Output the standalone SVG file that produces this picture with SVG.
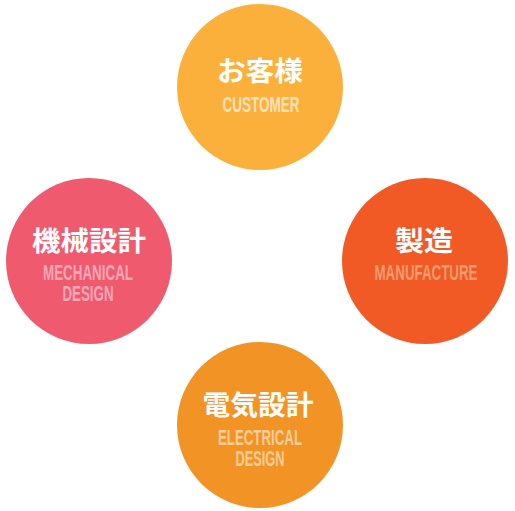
<svg xmlns="http://www.w3.org/2000/svg" width="515" height="511" viewBox="0 0 515 511">
<style>
.jp{font-family:"Noto Sans CJK JP","Noto Sans",sans-serif;font-weight:bold;font-size:27px;fill:#fff;text-anchor:middle}
.en{font-family:"Liberation Sans",Arial,sans-serif;font-size:22px;font-weight:bold;text-anchor:middle}
</style>
<rect width="515" height="511" fill="#fff"/>
<g id="customer">
<circle cx="260" cy="87" r="83" fill="#fbb03b"/>
<text class="jp" x="260" y="81" textLength="86" lengthAdjust="spacingAndGlyphs">お客様</text>
<text class="en" x="261" y="112" fill="#fde0bc" textLength="77" lengthAdjust="spacingAndGlyphs">CUSTOMER</text>
</g>
<g id="mechanical">
<circle cx="89" cy="261" r="83" fill="#ef5a6f"/>
<text class="jp" x="89" y="251" textLength="114" lengthAdjust="spacingAndGlyphs">機械設計</text>
<text class="en" x="88" y="280" fill="#f7a7b7" textLength="90" lengthAdjust="spacingAndGlyphs">MECHANICAL</text>
<text class="en" x="88" y="301" fill="#f7a7b7" textLength="51" lengthAdjust="spacingAndGlyphs">DESIGN</text>
</g>
<g id="manufacture">
<circle cx="425" cy="261" r="83" fill="#f15a24"/>
<text class="jp" x="424" y="251" textLength="58" lengthAdjust="spacingAndGlyphs">製造</text>
<text class="en" x="426" y="280" fill="#f79b70" textLength="103" lengthAdjust="spacingAndGlyphs">MANUFACTURE</text>
</g>
<g id="electrical">
<circle cx="260" cy="425" r="83" fill="#f29325"/>
<text class="jp" x="258" y="415" textLength="111" lengthAdjust="spacingAndGlyphs">電気設計</text>
<text class="en" x="260" y="445" fill="#fbcd98" textLength="84" lengthAdjust="spacingAndGlyphs">ELECTRICAL</text>
<text class="en" x="260" y="466" fill="#fbcd98" textLength="49" lengthAdjust="spacingAndGlyphs">DESIGN</text>
</g>
<g id="connectors"></g>
</svg>
